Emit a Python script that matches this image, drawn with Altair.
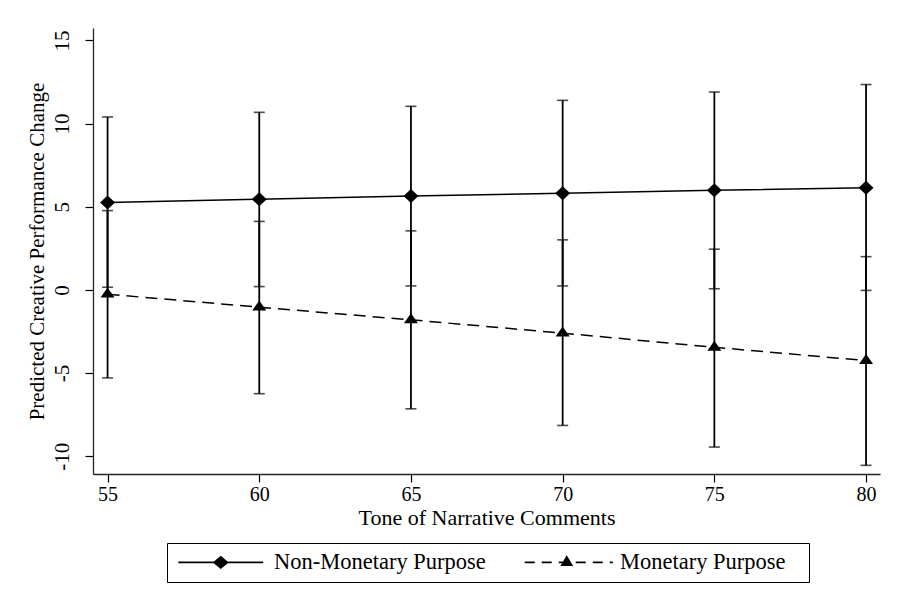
import altair as alt
import pandas as pd

tone = [55, 60, 65, 70, 75, 80]
series_names = ["Non-Monetary Purpose", "Monetary Purpose"]

nonmon_pred = [5.25, 5.45, 5.64, 5.82, 5.99, 6.15]
nonmon_hi = [10.40, 10.68, 11.04, 11.40, 11.90, 12.35]
nonmon_lo = [0.16, 0.20, 0.24, 0.24, 0.07, -0.03]

mon_pred = [-0.26, -1.04, -1.80, -2.60, -3.45, -4.25]
mon_hi = [4.77, 4.12, 3.55, 3.01, 2.45, 2.00]
mon_lo = [-5.29, -6.24, -7.15, -8.15, -9.45, -10.55]

y_ticks = [-10, -5, 0, 5, 10, 15]

rows = []
for i, t in enumerate(tone):
    rows.append({"tone": t, "series": series_names[0], "pred": nonmon_pred[i],
                 "lo": nonmon_lo[i], "hi": nonmon_hi[i]})
for i, t in enumerate(tone):
    rows.append({"tone": t, "series": series_names[1], "pred": mon_pred[i],
                 "lo": mon_lo[i], "hi": mon_hi[i]})
df = pd.DataFrame(rows)

FONT = "Liberation Serif"

diamond_path = "M0,-1L1.07,0L0,1L-1.07,0Z"
triangle_path = "M0,-0.95L1,0.48L-1,0.48Z"


def seg(a, b, h=0.094):
    return f"M{a},{-h}H{b}V{h}H{a}Z"


# legend keys: line (thin filled bars) + marker drawn as one symbol
legend_diamond = seg(-5.31, 5.31) + "M0,-0.83L1,0L0,0.83L-1,0Z"
legend_triangle = ("".join(seg(a, b) for a, b in [(-5.25, -4.0), (-3.125, -1.875), (-1.0, 0.25),
                                                  (1.125, 2.375), (3.25, 4.5), (5.375, 5.75)])
                   + "M0,-0.9L0.8,0.45L-0.8,0.45Z" + "M28.9,-0.001L28.9,0.001Z")

xscale = alt.Scale(domain=[54.52, 80.46], nice=False, zero=False)
yscale = alt.Scale(domain=[-11.07, 15.75], nice=False, zero=False)

x_axis = alt.Axis(values=tone, title="Tone of Narrative Comments", grid=False,
                  tickSize=8, tickColor="black", tickWidth=1.2,
                  domainColor="#222222", domainWidth=1.3,
                  labelFont=FONT, labelFontSize=20, labelColor="black",
                  labelPadding=2, labelFlush=False, labelOverlap=False,
                  titleFont=FONT, titleFontSize=22, titleFontWeight="normal",
                  titleColor="black", titleBaseline="alphabetic", titleY=50)
y_axis = alt.Axis(values=y_ticks, title="Predicted Creative Performance Change",
                  grid=False, tickSize=8, tickColor="black", tickWidth=1.2,
                  domainColor="#222222", domainWidth=1.3,
                  labelExpr="datum.value + ''",
                  labelFont=FONT, labelFontSize=21, labelColor="black",
                  labelAngle=270, labelAlign="center", labelBaseline="bottom",
                  labelPadding=13, labelFlush=False, labelOverlap=False,
                  titleFont=FONT, titleFontSize=21, titleFontWeight="normal",
                  titleColor="black", titleAngle=270, titleAlign="center",
                  titleBaseline="bottom", titleX=-46, titleY=223)

base = alt.Chart(df)

bars = base.mark_rule(color="black", strokeWidth=1.8).encode(
    x=alt.X("tone:Q", scale=xscale, axis=x_axis),
    y=alt.Y("lo:Q", scale=yscale, axis=y_axis),
    y2="hi:Q",
)
cap_hi = base.mark_tick(color="black", orient="horizontal", size=11, thickness=1.6).encode(
    x=alt.X("tone:Q", scale=xscale),
    y=alt.Y("hi:Q", scale=yscale),
)
cap_lo = base.mark_tick(color="black", orient="horizontal", size=11, thickness=1.6).encode(
    x=alt.X("tone:Q", scale=xscale),
    y=alt.Y("lo:Q", scale=yscale),
)

non_data = base.transform_filter(alt.datum.series == series_names[0])
mon_data = base.transform_filter(alt.datum.series == series_names[1])

line_non = non_data.mark_line(color="black", strokeWidth=1.5).encode(
    x=alt.X("tone:Q", scale=xscale), y=alt.Y("pred:Q", scale=yscale))
line_mon = mon_data.mark_line(color="black", strokeWidth=1.5, strokeDash=[12, 7]).encode(
    x=alt.X("tone:Q", scale=xscale), y=alt.Y("pred:Q", scale=yscale))

pts_non = non_data.mark_point(
    shape=diamond_path, size=196, filled=True, color="black", opacity=1
).encode(x=alt.X("tone:Q", scale=xscale), y=alt.Y("pred:Q", scale=yscale))
pts_mon = mon_data.mark_point(
    shape=triangle_path, size=196, filled=True, color="black", opacity=1
).encode(x=alt.X("tone:Q", scale=xscale), y=alt.Y("pred:Q", scale=yscale))

legend = alt.Legend(
    title=None, orient="none", legendX=74, legendY=515, direction="horizontal",
    padding=8, strokeColor="black", fillColor="white", cornerRadius=0,
    labelFont=FONT, labelFontSize=22.5, labelColor="black", labelLimit=600,
    labelOffset=42, symbolOffset=34.5, columnPadding=35, symbolSize=256,
    symbolStrokeWidth=1.5, symbolFillColor="black", symbolStrokeColor="black",
    symbolOpacity=1,
)
shape_scale = alt.Scale(domain=series_names, range=[legend_diamond, legend_triangle])

legend_layer = base.mark_point(fill="black", stroke="black", strokeWidth=1.5,
                               opacity=0, size=256).encode(
    x=alt.X("tone:Q", scale=xscale),
    y=alt.Y("pred:Q", scale=yscale),
    shape=alt.Shape("series:N", scale=shape_scale, legend=legend),
)

chart = alt.layer(bars, cap_hi, cap_lo, line_non, line_mon, pts_non, pts_mon,
                  legend_layer).properties(
    width=787, height=446,
    autosize=alt.AutoSizeParams(type="none"),
    padding={"left": 85, "top": 20, "right": 9, "bottom": 121},
    background="white",
).configure_view(stroke=None)

chart.save("out.html", embed_options={"renderer": "svg", "actions": False})
